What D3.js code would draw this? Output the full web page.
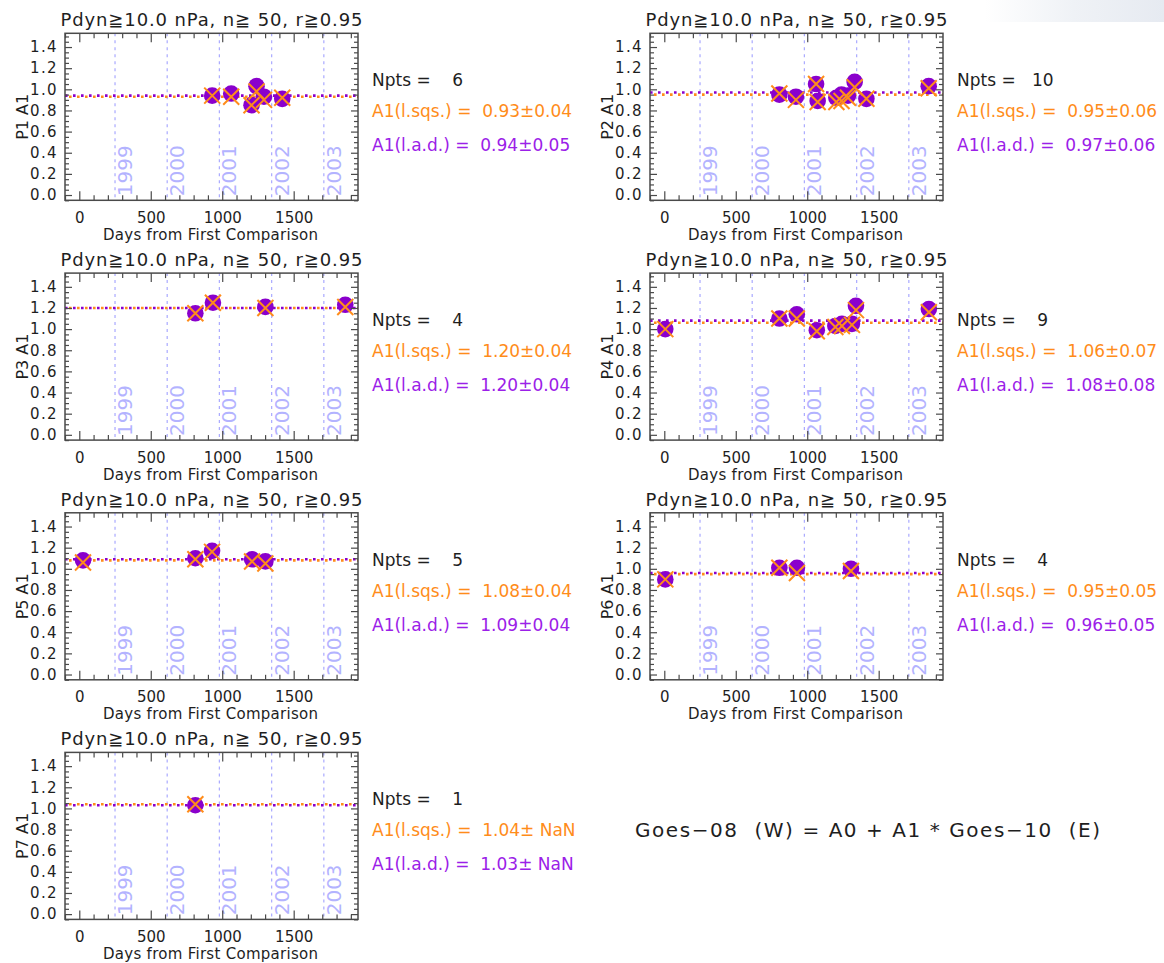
<!DOCTYPE html>
<html>
<head>
<meta charset="utf-8">
<script src="https://cdn.jsdelivr.net/npm/d3@7"></script>
<style>
  html, body { margin: 0; padding: 0; background: #fff; }
  svg text { font-family: "DejaVu Sans", "Noto Sans", sans-serif; white-space: pre; }
</style>
</head>
<body>
<svg id="chart" width="1164" height="963"></svg>
<script>
// ---- data -------------------------------------------------------------
const panelNames = ["P1", "P2", "P3", "P4", "P5", "P6", "P7"];

// days from first comparison, one list per panel
const pointDays = [
  [930, 1063, 1205, 1240, 1292, 1420],
  [805, 921, 1062, 1073, 1204, 1240, 1285, 1332, 1414, 1850],
  [812, 935, 1302, 1861],
  [7, 805, 927, 1067, 1197, 1243, 1313, 1341, 1851],
  [26, 812, 929, 1209, 1302],
  [7, 805, 928, 1306],
  [812]
];
// A1 from least absolute deviation (filled circles)
const a1Lad = [
  [0.94, 0.96, 0.85, 1.03, 0.93, 0.91],
  [0.95, 0.93, 1.05, 0.89, 0.92, 0.95, 0.94, 1.07, 0.91, 1.03],
  [1.15, 1.25, 1.21, 1.23],
  [1.00, 1.10, 1.14, 0.99, 1.03, 1.05, 1.05, 1.22, 1.19],
  [1.08, 1.10, 1.17, 1.09, 1.07],
  [0.90, 1.01, 1.01, 1.00],
  [1.03]
];
// A1 from least squares (crosses)
const a1Lsq = [
  [0.94, 0.93, 0.85, 0.98, 0.90, 0.92],
  [0.96, 0.90, 1.05, 0.88, 0.88, 0.89, 0.92, 1.02, 0.91, 1.01],
  [1.15, 1.25, 1.20, 1.21],
  [1.00, 1.10, 1.10, 0.98, 1.02, 1.03, 1.04, 1.18, 1.16],
  [1.06, 1.09, 1.16, 1.07, 1.05],
  [0.90, 1.01, 0.96, 0.98],
  [1.04]
];
// overall fits
const fitLsq = [0.93, 0.95, 1.20, 1.06, 1.08, 0.95, 1.04];
const errLsq = [0.04, 0.06, 0.04, 0.07, 0.04, 0.05, NaN];
const fitLad = [0.94, 0.97, 1.20, 1.08, 1.09, 0.96, 1.03];
const errLad = [0.05, 0.06, 0.04, 0.08, 0.04, 0.05, NaN];

const yearLabels = ["1999", "2000", "2001", "2002", "2003"];
const yearDays = [250, 615, 980, 1346, 1711];

const xTicks = [0, 500, 1000, 1500];
const yTicks = [0.0, 0.2, 0.4, 0.6, 0.8, 1.0, 1.2, 1.4];

const titleText = "Pdyn\u226710.0 nPa, n\u2267 50, r\u22670.95";
const equationText = "Goes\u221208  (W) = A0 + A1 * Goes\u221210  (E)";

// ---- styling -----------------------------------------------------------
const ORANGE = "#ff8c1a";
const PURPLE_MARK = "#8a00cc";
const PURPLE_TEXT = "#9b20e8";
const YEAR_LINE = "#a9a9ff";
const YEAR_TEXT = "#b3b3ff";
const FRAME = "#4a4a4a";
const INK = "#1e1e1e";

const W = 293, H = 167;
const colLeft = [65, 650];
const rowTop = [33.3, 273.1, 512.8, 752.4];

const x = d3.scaleLinear().domain([-100, 1950]).range([0, W]);
const y = d3.scaleLinear().domain([-0.05, 1.53]).range([H, 0]);

const xMinor = d3.range(-100, 1951, 100).filter(v => v % 500 !== 0);
const yMinor = d3.range(-0.05, 1.52, 0.05).map(v => +v.toFixed(2))
  .filter(v => Math.abs(Math.round(v * 5) - v * 5) > 1e-6);

const svg = d3.select("#chart");

// faint shading in the top-right corner
const defs = svg.append("defs");
const grad = defs.append("linearGradient").attr("id", "cornerShade")
  .attr("x1", "0").attr("x2", "1").attr("y1", "0").attr("y2", "0");
grad.append("stop").attr("offset", "0").attr("stop-color", "#e8ecf2").attr("stop-opacity", 0);
grad.append("stop").attr("offset", "0.5").attr("stop-color", "#e8ecf2").attr("stop-opacity", 0.7);
grad.append("stop").attr("offset", "1").attr("stop-color", "#e6eaf1").attr("stop-opacity", 1);
svg.append("rect").attr("x", 985).attr("y", 0).attr("width", 179).attr("height", 22)
  .attr("fill", "url(#cornerShade)");

const fmt2 = d3.format(".2f");
const pm = (v, e) => fmt2(v) + "\u00b1" + (isNaN(e) ? " NaN" : fmt2(e));

panelNames.forEach((name, i) => {
  const L = colLeft[i % 2], T = rowTop[Math.floor(i / 2)];
  const g = svg.append("g").attr("transform", `translate(${L},${T})`);

  // year marker lines and labels
  yearDays.forEach((d, k) => {
    g.append("line")
      .attr("x1", x(d)).attr("x2", x(d)).attr("y1", 0).attr("y2", H)
      .attr("stroke", YEAR_LINE).attr("stroke-width", 1.2)
      .attr("stroke-dasharray", "3,4");
    g.append("text")
      .attr("transform", `translate(${x(d) + 17},${112}) rotate(-90)`)
      .attr("text-anchor", "end")
      .attr("font-size", 20)
      .attr("fill", YEAR_TEXT)
      .text(yearLabels[k]);
  });

  // fit lines (alternating dots)
  g.append("line")
    .attr("x1", 0).attr("x2", W).attr("y1", y(fitLsq[i])).attr("y2", y(fitLsq[i]))
    .attr("stroke", ORANGE).attr("stroke-width", 2.6)
    .attr("stroke-dasharray", "2.6,5.4").attr("stroke-dashoffset", -4);
  g.append("line")
    .attr("x1", 0).attr("x2", W).attr("y1", y(fitLad[i])).attr("y2", y(fitLad[i]))
    .attr("stroke", PURPLE_MARK).attr("stroke-width", 2.6)
    .attr("stroke-dasharray", "2.6,5.4");

  // points
  const pts = pointDays[i].map((d, k) => ({ d, lad: a1Lad[i][k], lsq: a1Lsq[i][k] }));
  g.selectAll("circle.pt").data(pts).join("circle")
    .attr("class", "pt")
    .attr("cx", p => x(p.d)).attr("cy", p => y(p.lad)).attr("r", 8.3)
    .attr("fill", PURPLE_MARK);
  const s = 8;
  g.selectAll("path.cross").data(pts).join("path")
    .attr("class", "cross")
    .attr("transform", p => `translate(${x(p.d)},${y(p.lsq)})`)
    .attr("d", `M${-s},${-s}L${s},${s}M${-s},${s}L${s},${-s}`)
    .attr("stroke", ORANGE).attr("stroke-width", 2).attr("fill", "none");

  // axes
  const styleAxis = sel => {
    sel.select(".domain").remove();
    sel.selectAll(".tick line").attr("stroke", FRAME).attr("stroke-width", 1.2);
    sel.selectAll(".tick text").attr("fill", INK)
      .attr("font-family", "\"DejaVu Sans\", sans-serif");
  };
  g.append("g").call(d3.axisLeft(y).tickValues(yTicks).tickSizeInner(-7).tickSizeOuter(0)
    .tickPadding(7).tickFormat(d3.format(".1f"))).call(styleAxis)
    .selectAll(".tick text").attr("font-size", 15).attr("letter-spacing", 1.4);
  g.append("g").call(d3.axisLeft(y).tickValues(yMinor).tickSizeInner(-4).tickSizeOuter(0)
    .tickFormat("")).call(styleAxis);
  g.append("g").attr("transform", `translate(${W},0)`)
    .call(d3.axisRight(y).tickValues(yTicks).tickSizeInner(-7).tickSizeOuter(0).tickFormat(""))
    .call(styleAxis);
  g.append("g").attr("transform", `translate(${W},0)`)
    .call(d3.axisRight(y).tickValues(yMinor).tickSizeInner(-4).tickSizeOuter(0).tickFormat(""))
    .call(styleAxis);
  g.append("g").attr("transform", `translate(0,${H})`)
    .call(d3.axisBottom(x).tickValues(xTicks).tickSizeInner(-9).tickSizeOuter(0)
      .tickPadding(12).tickFormat(d3.format("d"))).call(styleAxis)
    .selectAll(".tick text").attr("font-size", 15);
  g.append("g").attr("transform", `translate(0,${H})`)
    .call(d3.axisBottom(x).tickValues(xMinor).tickSizeInner(-5).tickSizeOuter(0).tickFormat(""))
    .call(styleAxis);
  g.append("g").call(d3.axisTop(x).tickValues(xTicks).tickSizeInner(-9).tickSizeOuter(0).tickFormat(""))
    .call(styleAxis);
  g.append("g").call(d3.axisTop(x).tickValues(xMinor).tickSizeInner(-5).tickSizeOuter(0).tickFormat(""))
    .call(styleAxis);

  g.append("rect").attr("x", 0).attr("y", 0).attr("width", W).attr("height", H)
    .attr("fill", "none").attr("stroke", FRAME).attr("stroke-width", 1.5);

  // titles and axis labels
  g.append("text")
    .attr("x", W / 2).attr("y", -7)
    .attr("text-anchor", "middle").attr("font-size", 18)
    .attr("textLength", 302).attr("lengthAdjust", "spacing")
    .attr("fill", INK).text(titleText);
  g.append("text")
    .attr("x", W / 2 - 1).attr("y", H + 39.5)
    .attr("text-anchor", "middle").attr("font-size", 15)
    .attr("textLength", 215).attr("lengthAdjust", "spacing")
    .attr("fill", INK).text("Days from First Comparison");
  g.append("text")
    .attr("transform", `translate(-37,${H / 2}) rotate(-90)`)
    .attr("text-anchor", "middle").attr("font-size", 16)
    .attr("fill", INK).text(name + " A1");

  // fit summary
  const tx = W + 14;
  g.append("text").attr("x", tx).attr("y", 53).attr("font-size", 17).attr("fill", INK)
    .text("Npts =  " + String(pointDays[i].length).padStart(3, " "));
  g.append("text").attr("x", tx).attr("y", 84).attr("font-size", 17).attr("fill", ORANGE)
    .text("A1(l.sqs.) =  " + pm(fitLsq[i], errLsq[i]));
  g.append("text").attr("x", tx).attr("y", 118).attr("font-size", 17).attr("fill", PURPLE_TEXT)
    .text("A1(l.a.d.) =  " + pm(fitLad[i], errLad[i]));
});

// fitted relation
svg.append("text")
  .attr("x", 635).attr("y", 837)
  .attr("font-size", 20)
  .attr("textLength", 465).attr("lengthAdjust", "spacing")
  .attr("fill", INK).text(equationText);
</script>
</body>
</html>
